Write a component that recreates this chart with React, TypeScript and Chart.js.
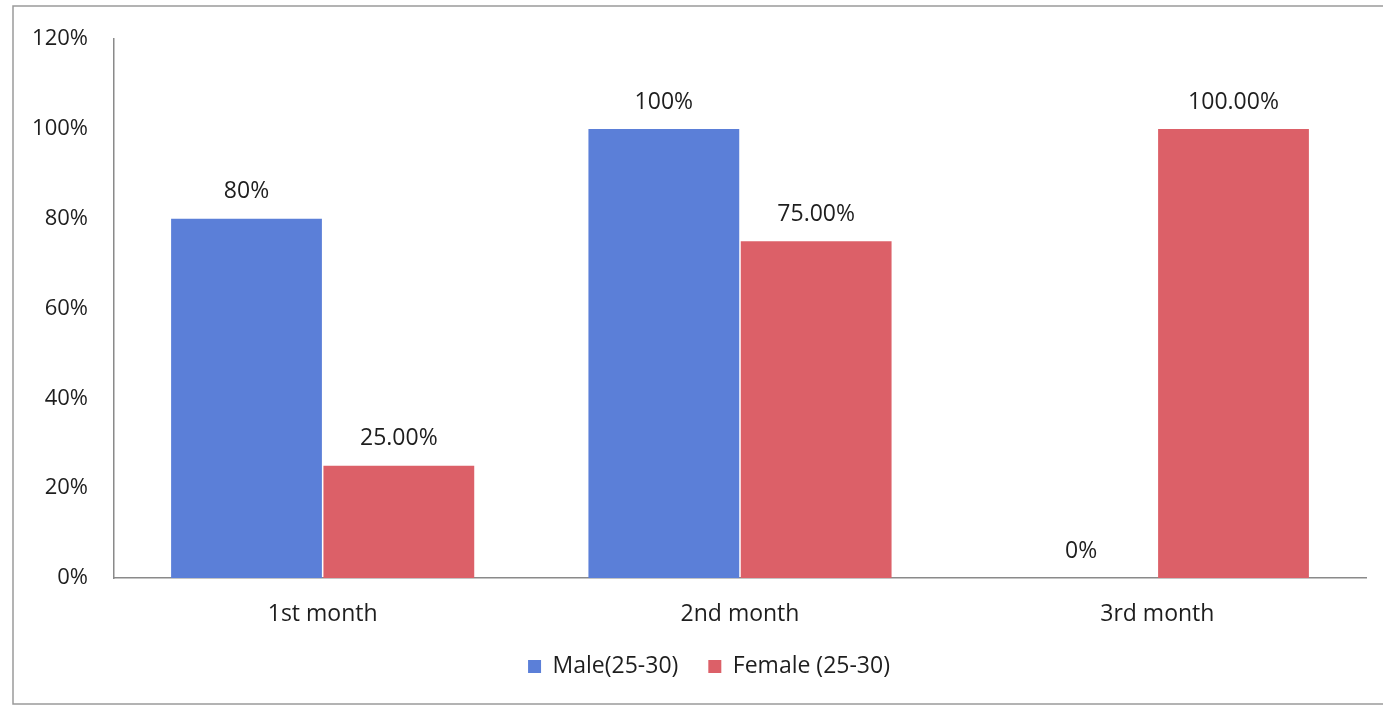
import React, { useEffect, useRef } from "react";
import { Chart, registerables } from "chart.js";

Chart.register(...registerables);

const categories = ["1st month", "2nd month", "3rd month"];
const maleValues = [80, 100, 0];
const femaleValues = [25, 75, 100];
const maleLabels = ["80%", "100%", "0%"];
const femaleLabels = ["25.00%", "75.00%", "100.00%"];
const seriesNames = ["Male(25-30)", "Female (25-30)"];
const yTickLabels = ["0%", "20%", "40%", "60%", "80%", "100%", "120%"];

const BLUE = "#5b7fd8";
const RED = "#dc6068";
const FONT = "'Open Sans', 'Noto Sans', sans-serif";
const TEXT = "#1e1e1e";

// Thin frame around the chart, left/top/bottom edges
const framePlugin = {
  id: "frame",
  beforeDraw(chart: any) {
    const ctx = chart.ctx;
    ctx.save();
    ctx.fillStyle = "#ffffff";
    ctx.fillRect(0, 0, chart.width, chart.height);
    ctx.strokeStyle = "#9a9a9a";
    ctx.lineWidth = 1.5;
    ctx.beginPath();
    ctx.moveTo(chart.width, 6);
    ctx.lineTo(13, 6);
    ctx.lineTo(13, 704);
    ctx.lineTo(chart.width, 704);
    ctx.stroke();
    ctx.restore();
  },
};

// Center the legend under the frame rather than the whole canvas
const legendShiftPlugin = {
  id: "legendShift",
  afterLayout(chart: any) {
    const lg = chart.legend;
    if (lg) {
      lg.left += 26;
      lg.right += 26;
    }
  },
};

// Value labels above each bar
const valueLabelPlugin = {
  id: "valueLabels",
  afterDatasetsDraw(chart: any) {
    const ctx = chart.ctx;
    const texts = [maleLabels, femaleLabels];
    ctx.save();
    ctx.font = `23px ${FONT}`;
    ctx.fillStyle = TEXT;
    ctx.textAlign = "center";
    ctx.textBaseline = "middle";
    chart.data.datasets.forEach((_: any, di: number) => {
      const meta = chart.getDatasetMeta(di);
      meta.data.forEach((bar: any, i: number) => {
        ctx.fillText(texts[di][i], bar.x, bar.y - 27);
      });
    });
    ctx.restore();
  },
};

export default function App() {
  const ref = useRef<HTMLCanvasElement | null>(null);

  useEffect(() => {
    if (!ref.current) return;
    const chart = new Chart(ref.current, {
      type: "bar",
      data: {
        labels: categories,
        datasets: [
          {
            label: seriesNames[0],
            data: maleValues,
            backgroundColor: BLUE,
            categoryPercentage: 0.73,
            barPercentage: 0.99,
          },
          {
            label: seriesNames[1],
            data: femaleValues,
            backgroundColor: RED,
            categoryPercentage: 0.73,
            barPercentage: 0.99,
          },
        ],
      },
      plugins: [framePlugin, legendShiftPlugin, valueLabelPlugin],
      options: {
        responsive: false,
        animation: false,
        layout: { padding: { left: 0, right: 17, top: 39, bottom: 18 } },
        plugins: {
          legend: {
            position: "bottom",
            labels: {
              boxWidth: 13,
              boxHeight: 13,
              padding: 30,
              color: TEXT,
              font: { family: FONT, size: 23 },
            },
          },
          tooltip: { enabled: false },
        },
        scales: {
          x: {
            grid: { display: false, drawTicks: false },
            border: { color: "#8a8a8a", width: 1.5 },
            ticks: {
              color: TEXT,
              font: { family: FONT, size: 23 },
              padding: 23,
            },
            afterFit(scale: any) {
              scale.height = 47;
            },
          },
          y: {
            min: 0,
            max: 120,
            grid: { display: false, drawTicks: false },
            border: { color: "#8a8a8a", width: 1.5 },
            ticks: {
              stepSize: 20,
              color: TEXT,
              font: { family: FONT, size: 22 },
              padding: 26,
              callback: (_v: any, i: number) => yTickLabels[i],
            },
            afterFit(scale: any) {
              scale.width = 114;
            },
          },
        },
      },
    });
    return () => chart.destroy();
  }, []);

  return (
    <div style={{ position: "fixed", left: 0, top: 0, width: 1383, height: 706, background: "#fff" }}>
      <canvas ref={ref} width={1383} height={706} style={{ display: "block" }} />
    </div>
  );
}
